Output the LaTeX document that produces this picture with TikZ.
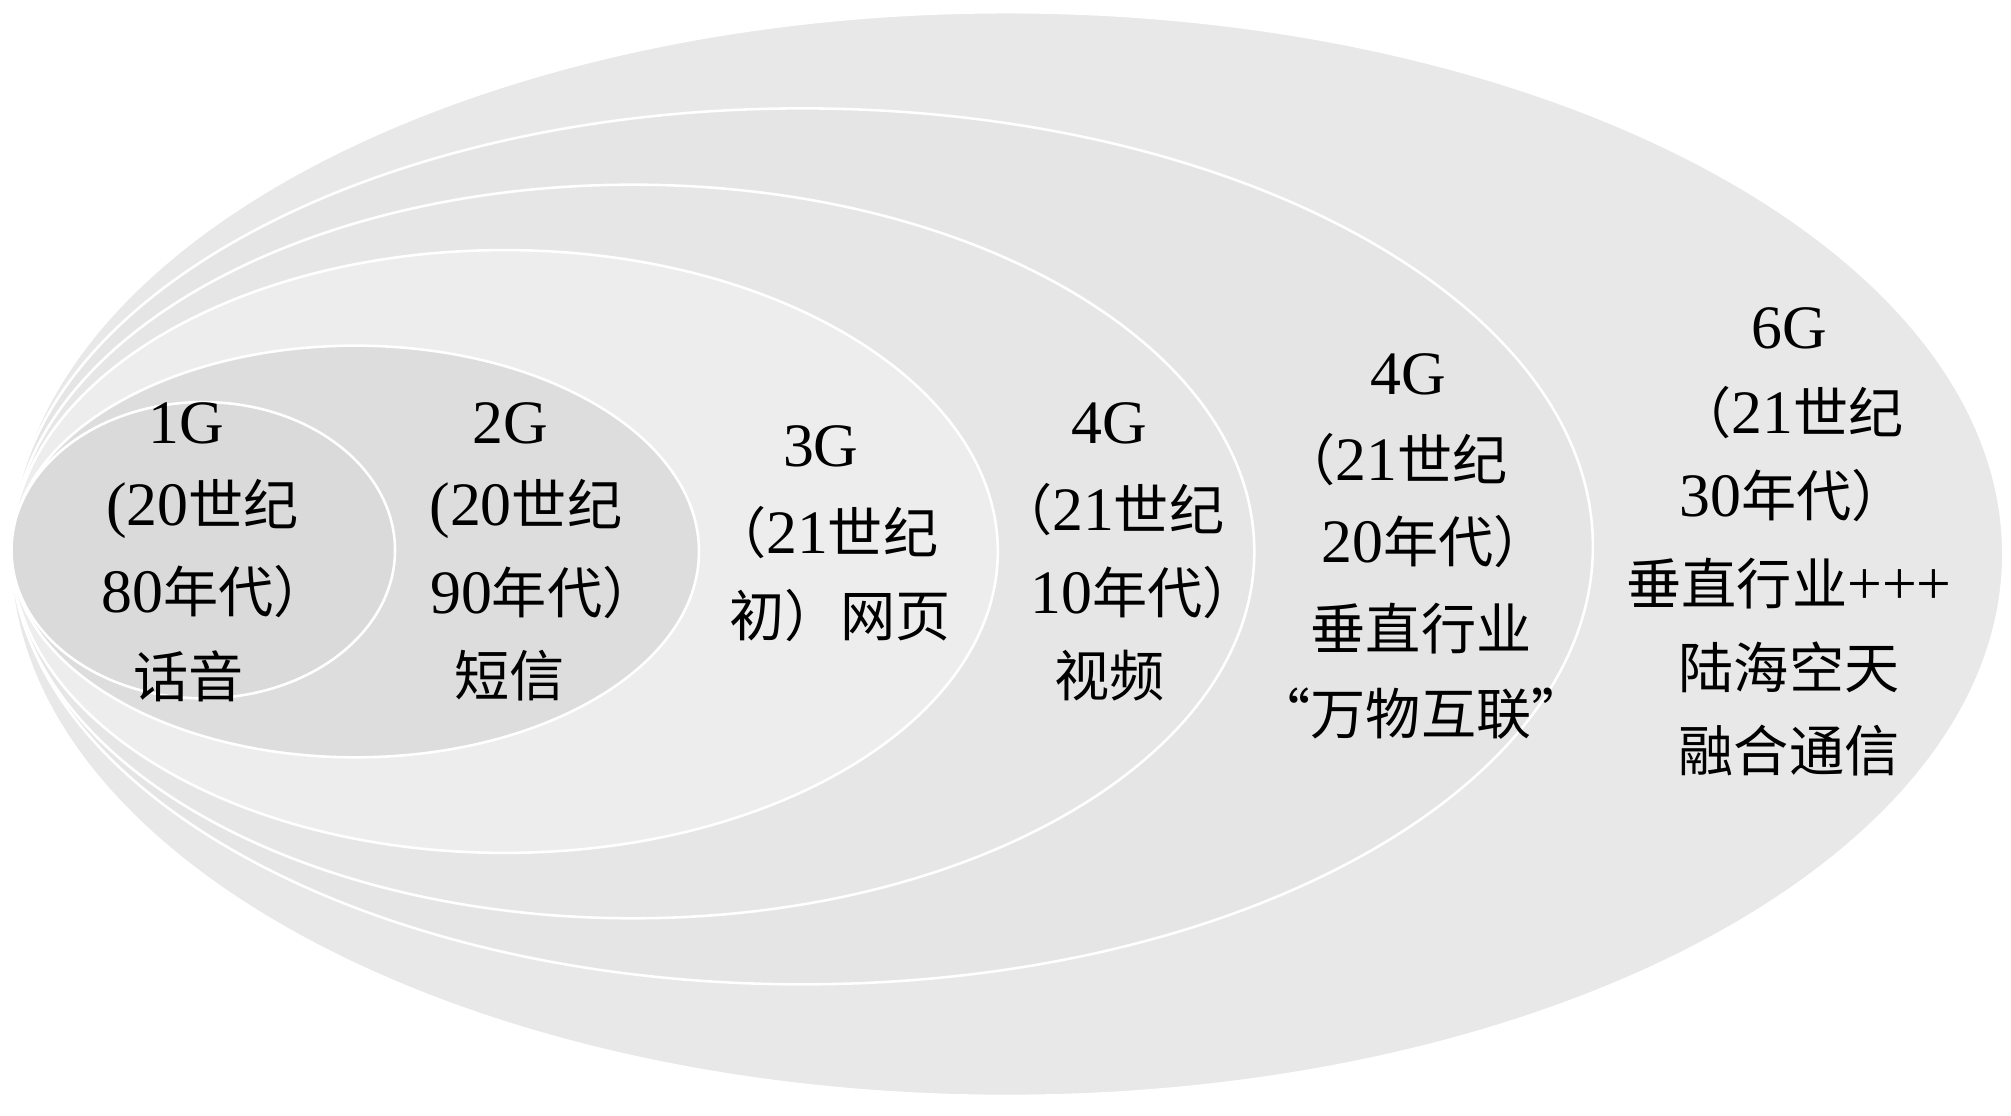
\documentclass[tikz,border=0pt]{standalone}
\usepackage{fontspec}
\setmainfont{Liberation Serif}[Scale=1.12]
\newfontfamily\cjk{Noto Sans CJK SC}
\definecolor{cE6}{HTML}{E8E8E8}
\definecolor{cE5}{HTML}{E5E5E5}
\definecolor{cE4}{HTML}{E6E6E6}
\definecolor{cE3}{HTML}{EDEDED}
\definecolor{cE2}{HTML}{DDDDDD}
\definecolor{cE1}{HTML}{DADADA}
\tikzset{
  ring/.style={draw=white, line width=2pt},
  lbl/.style={inner sep=0pt, font=\fontsize{43}{50}\selectfont, text=black}
}
\begin{document}
\begin{tikzpicture}[x=1pt,y=-1pt]
\useasboundingbox (0,0) rectangle (1568,870);
\fill[white] (0,0) rectangle (1568,870);
% nested ellipses
\path[ring, fill=cE6] (785,432) ellipse [x radius=777pt, y radius=422.5pt];
\path[ring, fill=cE5] (625.5,426) ellipse [x radius=616.5pt, y radius=341.5pt];
\path[ring, fill=cE4] (493.5,430) ellipse [x radius=484.5pt, y radius=286pt];
\path[ring, fill=cE3] (393.5,430) ellipse [x radius=384.5pt, y radius=235pt];
\path[ring, fill=cE2] (277,430) ellipse [x radius=268pt, y radius=160.5pt];
\path[ring, fill=cE1] (158.5,429) ellipse [x radius=149.5pt, y radius=115.5pt];
% 1G
\node[lbl] (a1) at (145,330) {1G};
\node[lbl] (a2) at (158,397) {(20{\cjk 世纪}};
\node[lbl] (a3) at (168,461) {80{\cjk 年代）}};
\node[lbl] (a4) at (147,527) {{\cjk 话音}};
% 2G
\node[lbl] (b1) at (398,330) {2G};
\node[lbl] (b2) at (410,397) {(20{\cjk 世纪}};
\node[lbl] (b3) at (424,462) {90{\cjk 年代）}};
\node[lbl] (b4) at (397,527) {{\cjk 短信}};
% 3G
\node[lbl] (c1) at (640,348) {3G};
\node[lbl] (c2) at (643,415) {{\cjk （}21{\cjk 世纪}};
\node[lbl] (c3) at (655,480) {{\cjk 初）网页}};
% 4G
\node[lbl] (d1) at (865,330) {4G};
\node[lbl] (d2) at (866,397) {{\cjk （}21{\cjk 世纪}};
\node[lbl] (d3) at (892,462) {10{\cjk 年代）}};
\node[lbl] (d4) at (865,527) {{\cjk 视频}};
% 4G 20s
\node[lbl] (e1) at (1098,292) {4G};
\node[lbl] (e2) at (1087,358) {{\cjk （}21{\cjk 世纪}};
\node[lbl] (e3) at (1119,422) {20{\cjk 年代）}};
\node[lbl] (e4) at (1108,490) {{\cjk 垂直行业}};
\node[lbl] (e5) at (1108,556) {{\cjk “万物互联”}};
% 6G
\node[lbl] (f1) at (1395,256) {6G};
\node[lbl] (f2) at (1396,322) {{\cjk （}21{\cjk 世纪}};
\node[lbl] (f3) at (1398,386) {30{\cjk 年代）}};
\node[lbl] (f4) at (1395,455) {{\cjk 垂直行业}+++};
\node[lbl] (f5) at (1395,520) {{\cjk 陆海空天}};
\node[lbl] (f6) at (1395,585) {{\cjk 融合通信}};
\end{tikzpicture}
\end{document}
